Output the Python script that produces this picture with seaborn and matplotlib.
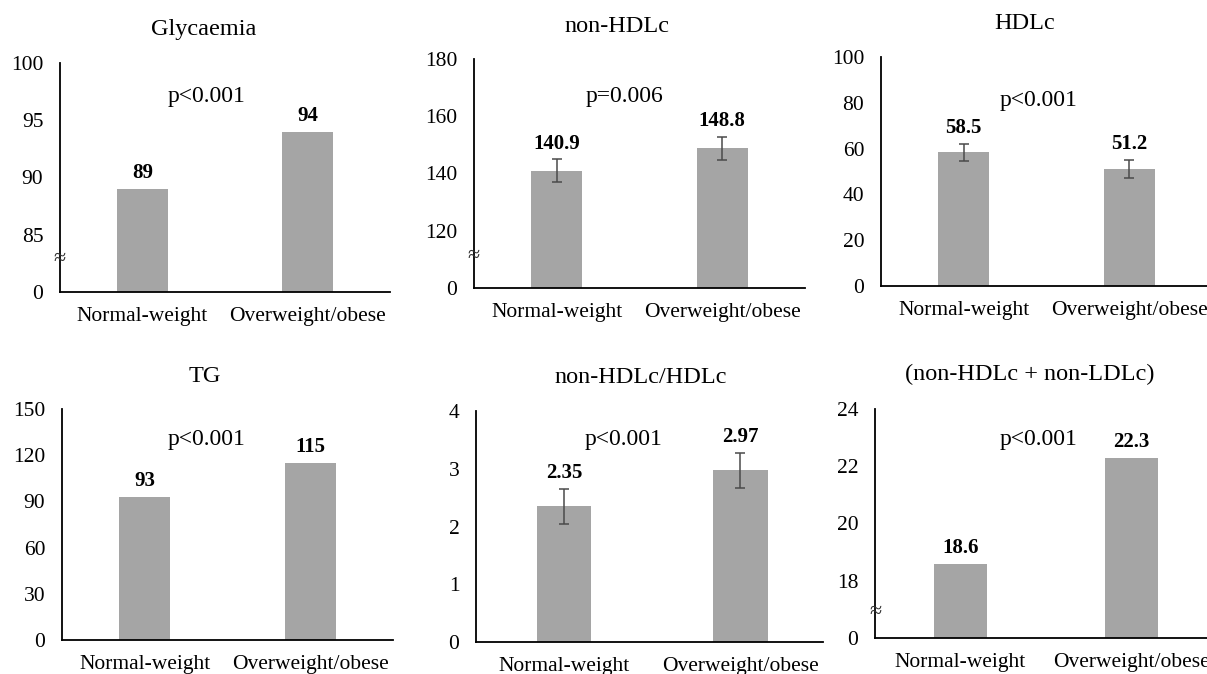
import matplotlib
matplotlib.use("Agg")
import matplotlib.pyplot as plt
import seaborn as sns

sns.set_theme(style="white")
plt.rcParams["font.family"] = ["Liberation Serif", "DejaVu Serif"]

# ---------------- data ----------------
categories = ["Normal-weight", "Overweight/obese"]

titles = ["Glycaemia", "non-HDLc", "HDLc", "TG", "non-HDLc/HDLc",
          "(non-HDLc + non-LDLc)"]
p_texts = ["p<0.001", "p=0.006", "p<0.001", "p<0.001", "p<0.001", "p<0.001"]

glycaemia = [89, 94]
glycaemia_labels = ["89", "94"]
non_hdlc = [140.9, 148.8]
non_hdlc_err = [4.0, 4.0]
non_hdlc_labels = ["140.9", "148.8"]
hdlc = [58.5, 51.2]
hdlc_err = [3.7, 3.9]
hdlc_labels = ["58.5", "51.2"]
tg = [93, 115]
tg_labels = ["93", "115"]
ratio = [2.35, 2.97]
ratio_err = [0.30, 0.31]
ratio_labels = ["2.35", "2.97"]
combined = [18.6, 22.3]
combined_labels = ["18.6", "22.3"]

glyc_ticks = [80, 85, 90, 95, 100]
glyc_ticklabels = ["0", "85", "90", "95", "100"]
nonhdl_ticks = [100, 120, 140, 160, 180]
nonhdl_ticklabels = ["0", "120", "140", "160", "180"]
hdl_ticks = [0, 20, 40, 60, 80, 100]
hdl_ticklabels = ["0", "20", "40", "60", "80", "100"]
tg_ticks = [0, 30, 60, 90, 120, 150]
tg_ticklabels = ["0", "30", "60", "90", "120", "150"]
ratio_ticks = [0, 1, 2, 3, 4]
ratio_ticklabels = ["0", "1", "2", "3", "4"]
comb_ticks = [16, 18, 20, 22, 24]
comb_ticklabels = ["0", "18", "20", "22", "24"]

# ---------------- figure ----------------
W, H = 1207, 674
fig = plt.figure(figsize=(W / 100, H / 100), dpi=100)

BAR = "#a5a5a5"
ERR = "#4a4a4a"


def px_axes(left, top, right, bottom):
    return fig.add_axes([left / W, 1 - bottom / H, (right - left) / W,
                         (bottom - top) / H])


panels = [
    dict(box=(60, 63, 390, 292), vals=glycaemia, err=None,
         lab=glycaemia_labels, ticks=glyc_ticks, tl=glyc_ticklabels,
         brk=82.8, xr=1.5),
    dict(box=(474, 59, 805, 288), vals=non_hdlc, err=non_hdlc_err,
         lab=non_hdlc_labels, ticks=nonhdl_ticks, tl=nonhdl_ticklabels,
         brk=110.9, xr=1.5),
    dict(box=(881, 57, 1212, 286), vals=hdlc, err=hdlc_err,
         lab=hdlc_labels, ticks=hdl_ticks, tl=hdl_ticklabels,
         brk=None, xr=1.5),
    dict(box=(62, 409, 393, 640), vals=tg, err=None,
         lab=tg_labels, ticks=tg_ticks, tl=tg_ticklabels,
         brk=None, xr=1.5),
    dict(box=(476, 411, 823, 642), vals=ratio, err=ratio_err,
         lab=ratio_labels, ticks=ratio_ticks, tl=ratio_ticklabels,
         brk=None, xr=1.47),
    dict(box=(875, 409, 1217, 638), vals=combined, err=None,
         lab=combined_labels, ticks=comb_ticks, tl=comb_ticklabels,
         brk=16.9, xr=1.5),
]

title_pos = [(204, 35), (617, 32), (1025, 29), (205, 382), (641, 383),
             (1030, 380)]
p_pos = [(207, 102), (625, 102), (1039, 106), (207, 445), (624, 445),
         (1039, 445)]

for i, p in enumerate(panels):
    ax = px_axes(*p["box"])
    sns.barplot(x=categories, y=p["vals"], ax=ax, color=BAR, saturation=1,
                width=0.31, errorbar=None, linewidth=0)
    if p["err"] is not None:
        ax.errorbar([0, 1], p["vals"], yerr=p["err"], fmt="none",
                    ecolor=ERR, elinewidth=1.1, capsize=3.5, capthick=1.1,
                    zorder=5)
    tops = [v + (e if p["err"] is not None else 0)
            for v, e in zip(p["vals"], p["err"] or [0, 0])]
    for x, (t, lab) in enumerate(zip(tops, p["lab"])):
        ax.annotate(lab, (x, t), xytext=(0, 4), textcoords="offset points",
                    ha="center", va="bottom", fontsize=15, fontweight="bold",
                    color="black")
    ax.set_xlim(-0.5, p["xr"])
    ax.set_ylim(p["ticks"][0], p["ticks"][-1])
    ax.set_yticks(p["ticks"])
    ax.set_yticklabels(p["tl"])
    ax.tick_params(axis="both", length=0, labelsize=15.5, colors="black")
    ax.tick_params(axis="y", pad=12)
    ax.tick_params(axis="x", pad=11)
    ax.set_xlabel("")
    ax.set_ylabel("")
    for s in ("top", "right"):
        ax.spines[s].set_visible(False)
    for s in ("left", "bottom"):
        ax.spines[s].set_color("black")
        ax.spines[s].set_linewidth(1.3)
    ax.set_facecolor("white")
    if p["brk"] is not None:
        ax.text(0.0, p["brk"], "≈", transform=ax.get_yaxis_transform(),
                ha="center", va="center", fontsize=16, color="#333333",
                clip_on=False)
    tx, ty = title_pos[i]
    fig.text(tx / W, 1 - ty / H, titles[i], ha="center", va="baseline",
             fontsize=17.5, color="black")
    px, py = p_pos[i]
    fig.text(px / W, 1 - py / H, p_texts[i], ha="center", va="baseline",
             fontsize=17, color="black")

fig.savefig("out.png", dpi=100, facecolor="white")
